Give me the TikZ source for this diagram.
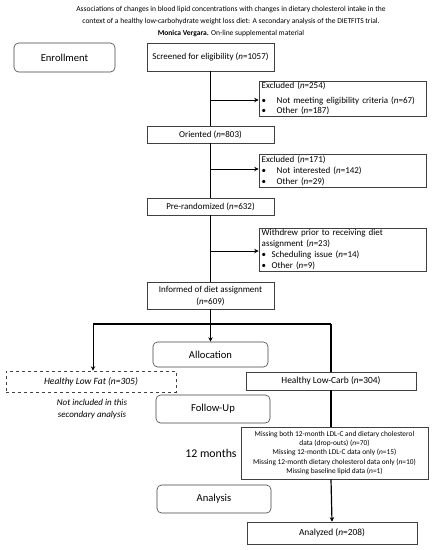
\documentclass[tikz,border=0pt]{standalone}
\usepackage{fontspec}
\setmainfont{Carlito}
\usetikzlibrary{arrows.meta}
\begin{document}
\begin{tikzpicture}[x=1pt,y=-1pt,
  box/.style={draw=black!75, line width=0.6pt, inner sep=0pt, minimum height=#1, font=\fontsize{9}{12}\selectfont, align=center},
  box/.default=17,
  sidebox/.style={draw=black!75, line width=0.6pt, inner xsep=2.7pt, inner ysep=0pt, minimum width=167, text width=161.6, align=left, font=\fontsize{9}{10.9}\selectfont},
  roundbox/.style={draw=black!75, line width=0.6pt, rounded corners=4.5pt, inner sep=0pt, font=\fontsize{10.6}{12}\selectfont},
  conn/.style={draw=black, line width=0.8pt},
  thick conn/.style={draw=black, line width=1.2pt},
  arr/.style={-{Stealth[length=4.5pt,width=4.5pt]}},
]
\useasboundingbox (0,0) rectangle (433,550);
% title
\node[align=center, font=\fontsize{7.55}{12}\selectfont] (title) at (231,22)
  {Associations of changes in blood lipid concentrations with changes in dietary cholesterol intake in the\\
   context of a healthy low-carbohydrate weight loss diet: A secondary analysis of the DIETFITS trial.\\
   \textbf{Monica Vergara.} On-line supplemental material};
% left column
\node[roundbox, minimum width=101, minimum height=29] (enroll) at (64.5,57.5) {Enrollment};
% main column
\node[box=28, minimum width=127] (screen) at (210.5,57) {Screened for eligibility (\textit{n}=1057)};
\node[box=17, minimum width=127] (orient) at (210.5,134.5) {Oriented (\textit{n}=803)};
\node[box=17, minimum width=127] (prerand) at (210.5,206.5) {Pre-randomized (\textit{n}=632)};
\node[box=27, minimum width=127] (informed) at (210.5,295.5) {Informed of diet assignment\\(\textit{n}=609)};
% side boxes
\node[sidebox, minimum height=35] (excl1) at (342.5,98.5)
  {\fontsize{9}{10.3}\selectfont Excluded (\textit{n}=254)\\[4.4pt]
   \makebox[15pt][l]{\textbullet}Not meeting eligibility criteria (\textit{n}=67)\\
   \makebox[15pt][l]{\textbullet}Other (\textit{n}=187)};
\node[sidebox, minimum height=33] (excl2) at (342.5,170.5)
  {Excluded (\textit{n}=171)\\
   \makebox[15pt][l]{\textbullet}Not interested (\textit{n}=142)\\
   \makebox[15pt][l]{\textbullet}Other (\textit{n}=29)};
\node[sidebox, minimum height=43] (withdrew) at (342.5,249.5)
  {Withdrew prior to receiving diet\\
   assignment (\textit{n}=23)\\
   \makebox[10pt][l]{\textbullet}Scheduling issue (\textit{n}=14)\\
   \makebox[10pt][l]{\textbullet}Other (\textit{n}=9)};
% phase boxes
\node[roundbox, minimum width=115, minimum height=25] (alloc) at (210.5,354.5) {Allocation};
\node[roundbox, minimum width=114, minimum height=28] (follow) at (213,409) {Follow-Up};
\node[roundbox, minimum width=114, minimum height=28] (analysis) at (214,499) {Analysis};
\node[font=\fontsize{11.8}{13}\selectfont, inner sep=0pt] (months) at (211,453) {12 months};
% arms
\node[box=21, minimum width=170, dashed, font=\fontsize{9.5}{11}\itshape] (lowfat) at (91,381.5) {Healthy Low Fat (n=305)};
\node[align=center, font=\fontsize{9}{12}\itshape] (notincl) at (92,409) {Not included in this\\secondary analysis};
\node[box=18, minimum width=170, font=\fontsize{9.4}{11}\selectfont] (lowcarb) at (331,381) {Healthy Low-Carb (\textit{n}=304)};
\node[box=52, minimum width=187, font=\fontsize{7.4}{9.2}\selectfont] (missing) at (334.5,453)
  {Missing both 12-month LDL-C and dietary cholesterol\\
   data (drop-outs) (\textit{n}=70)\\
   Missing 12-month LDL-C data only (\textit{n}=15)\\
   Missing 12-month dietary cholesterol data only (\textit{n}=10)\\
   Missing baseline lipid data (\textit{n}=1)};
\node[box=22, minimum width=170, font=\fontsize{9.4}{11}\selectfont] (analyzed) at (332,533) {Analyzed (\textit{n}=208)};
% connectors
\coordinate (b1) at (210.5,100);
\coordinate (b2) at (210.5,169);
\coordinate (b3) at (210.5,251);
\draw[conn] (screen.south) -- (orient.north);
\draw[conn] (orient.south) -- (prerand.north);
\draw[thick conn] (prerand.south) -- (informed.north);
\draw[conn, arr] (b1) -- (b1 -| excl1.west);
\draw[conn, arr] (b2) -- (b2 -| excl2.west);
\draw[conn, arr] (b3) -- (b3 -| withdrew.west);
\draw[thick conn, arr] (informed.south) -- (alloc.north);
\coordinate (lf) at (93,324);
\coordinate (lc) at (331,324);
\draw[thick conn] (lf) -- (lc);
\draw[conn, arr] (lf) -- (lf |- lowfat.north);
\draw[thick conn] (lc) -- (lowcarb.north);
\draw[thick conn] (lowcarb.south) -- (lowcarb.south |- missing.north);
\draw[thick conn, arr] (missing.south -| lowcarb.south) -- (analyzed.north);
\end{tikzpicture}
\end{document}
